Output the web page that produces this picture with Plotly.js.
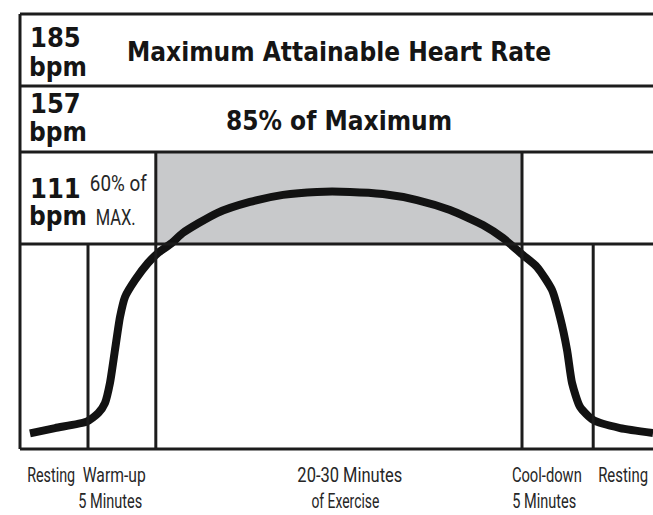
<!DOCTYPE html>
<html>
<head>
<meta charset="utf-8">
<script src="https://cdn.plot.ly/plotly-3.0.1.min.js"></script>
<style>
html,body{margin:0;padding:0;background:#fff;}
#chart{width:653px;height:515px;}
</style>
</head>
<body>
<div id="chart"></div>
<script>
// ---- data (time in minutes from start of warm-up, heart rate in schematic bpm) ----
const timeMin = [-4.28, -2.43, -0.10, 0.76, 1.25, 1.62, 1.99, 2.36, 2.73, 3.47, 4.42, 5.16, 6.19, 7.00, 9.51, 11.94, 14.38, 16.88, 19.32, 21.75, 24.26, 26.69, 29.12, 30.60, 32.07, 33.11, 34.21, 34.80, 35.32, 35.69, 36.28, 37.24, 39.23, 41.66];
const heartRate = [22.3, 24.8, 27.8, 31.8, 36.5, 45.9, 61.4, 76.8, 86.2, 94.1, 102.1, 106.8, 111.5, 116.2, 125.5, 130.7, 134.0, 135.4, 135.4, 134.4, 131.6, 126.9, 119.9, 113.8, 105.8, 100.2, 89.5, 76.8, 61.4, 45.9, 34.7, 28.6, 24.8, 22.5];
const phaseEdges = [0, 5, 32, 37.25];           // warm-up start, exercise start, exercise end, cool-down end
const levelBpm = ["185", "157", "111"];
const levelUnit = "bpm";
const levelNames = ["Maximum Attainable Heart Rate", "85% of Maximum", "60% of", "MAX."];
const phaseLabels = ["Resting", "Warm-up", "5 Minutes", "20-30 Minutes", "of Exercise", "Cool-down", "Resting", "5 Minutes"];

// ---- layout helpers (pixel -> paper) ----
const L = 20, T = 14, W = 633, H = 435;
const X = px => (px - L) / W;
const Y = py => (T + H - py) / H;

const lineCol = '#1c1c1c';
const lw = 3;
const boldFont = (s) => ({family: '"DejaVu Sans Condensed", "DejaVu Sans", sans-serif', size: s, color: '#151515', weight: 'bold'});
const lightFont = (s) => ({family: 'Roboto, "DejaVu Sans Condensed", sans-serif', size: s, color: '#262626', weight: 400});

const rowLines = [Y(86), Y(152), Y(244)];

const shapes = [
  {type: 'rect', xref: 'x', yref: 'paper', x0: phaseEdges[1], x1: phaseEdges[2], y0: rowLines[2], y1: rowLines[1], fillcolor: '#c8c9cb', line: {width: 0}, layer: 'below'},
  // frame
  {type: 'line', xref: 'paper', yref: 'paper', x0: 0, x1: 1.01, y0: 1, y1: 1, line: {color: lineCol, width: lw}},
  {type: 'line', xref: 'paper', yref: 'paper', x0: 0, x1: 1.01, y0: 0, y1: 0, line: {color: lineCol, width: lw}},
  {type: 'line', xref: 'paper', yref: 'paper', x0: 0, x1: 0, y0: 0, y1: 1, line: {color: lineCol, width: lw}},
  // row lines
  ...rowLines.map(v => ({type: 'line', xref: 'paper', yref: 'paper', x0: 0, x1: 1.01, y0: v, y1: v, line: {color: lineCol, width: lw}})),
  // verticals
  {type: 'line', xref: 'x', yref: 'paper', x0: phaseEdges[1], x1: phaseEdges[1], y0: 0, y1: rowLines[1], line: {color: lineCol, width: lw}},
  {type: 'line', xref: 'x', yref: 'paper', x0: phaseEdges[2], x1: phaseEdges[2], y0: 0, y1: rowLines[1], line: {color: lineCol, width: lw}},
  {type: 'line', xref: 'x', yref: 'paper', x0: phaseEdges[0], x1: phaseEdges[0], y0: 0, y1: rowLines[2], line: {color: lineCol, width: lw}},
  {type: 'line', xref: 'x', yref: 'paper', x0: phaseEdges[3], x1: phaseEdges[3], y0: 0, y1: rowLines[2], line: {color: lineCol, width: lw}}
];

// fitWidth: target rendered width in px for condensed-looking light labels (null = natural)
const fitWidth = [];
function ann(text, px, py, font, xanchor, fw) {
  fitWidth.push(fw || null);
  return {text: text, xref: 'paper', yref: 'paper', x: X(px), y: Y(py), xanchor: xanchor || 'left', yanchor: 'middle', showarrow: false, font: font, borderpad: 0};
}

const annotations = [
  ann(levelBpm[0], 29, 37.7, boldFont(27)),
  ann(levelUnit, 28, 67, boldFont(26)),
  ann(levelNames[0], 339, 52, boldFont(26), 'center'),
  ann(levelBpm[1], 29, 103.7, boldFont(27)),
  ann(levelUnit, 28, 132, boldFont(26)),
  ann(levelNames[1], 339, 121, boldFont(26), 'center'),
  ann(levelBpm[2], 29, 188.7, boldFont(27)),
  ann(levelUnit, 28, 216, boldFont(26)),
  ann(levelNames[2], 118.5, 183.5, lightFont(22), 'center', 57),
  ann(levelNames[3], 115, 217, lightFont(22), 'center', 40),
  ann(phaseLabels[0], 51, 474.8, lightFont(21), 'center', 48),
  ann(phaseLabels[1], 113.5, 474.8, lightFont(21), 'center', 63),
  ann(phaseLabels[2], 110, 500.8, lightFont(21), 'center', 64),
  ann(phaseLabels[3], 349.5, 474.8, lightFont(21), 'center', 105),
  ann(phaseLabels[4], 346, 500.8, lightFont(21), 'center', 68),
  ann(phaseLabels[5], 547, 474.8, lightFont(21), 'center', 70),
  ann(phaseLabels[6], 623, 474.8, lightFont(21), 'center', 50),
  ann(phaseLabels[7], 543.5, 500.8, lightFont(21), 'center', 64)
];

const trace = {
  x: timeMin, y: heartRate, type: 'scatter', mode: 'lines',
  line: {color: '#121212', width: 8, shape: 'spline', smoothing: 0.6},
  hoverinfo: 'skip', cliponaxis: true
};

const layout = {
  width: 653, height: 515,
  margin: {l: L, r: 653 - L - W, t: T, b: 515 - T - H, pad: 0},
  paper_bgcolor: '#ffffff', plot_bgcolor: 'rgba(0,0,0,0)',
  showlegend: false,
  xaxis: {range: [(20 - 88) / 13.5625, (653 - 88) / 13.5625], visible: false, fixedrange: true},
  yaxis: {range: [14.99, 218.72], visible: false, fixedrange: true},
  shapes: shapes,
  annotations: annotations
};

function condense() {
  fitWidth.forEach((w, i) => {
    if (!w) return;
    const t = document.querySelector('#chart g.annotation[data-index="' + i + '"] text');
    if (!t) return;
    t.style.transform = '';
    const len = t.getComputedTextLength();
    if (!len) return;
    t.style.transformBox = 'fill-box';
    t.style.transformOrigin = 'center';
    t.style.transform = 'scaleX(' + (w / len).toFixed(4) + ')';
  });
}

Plotly.newPlot('chart', [trace], layout, {displayModeBar: false, staticPlot: true}).then(() => {
  condense();
  if (document.fonts && document.fonts.ready) document.fonts.ready.then(condense);
});
</script>
</body>
</html>
